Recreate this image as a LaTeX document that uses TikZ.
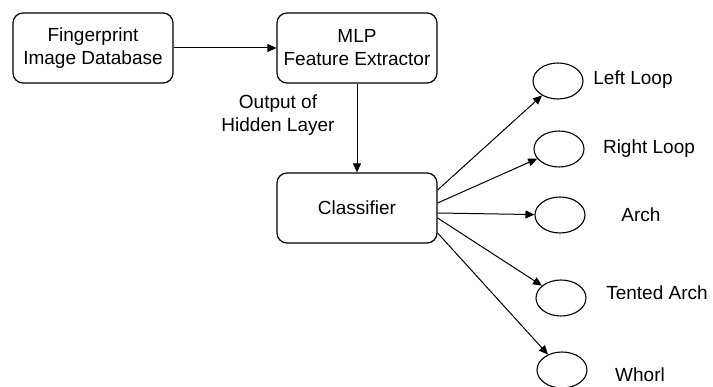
\documentclass[tikz,border=0pt]{standalone}
\usepackage{fontspec}
\setmainfont{Liberation Sans}
\usetikzlibrary{arrows.meta,shapes.geometric}
\begin{document}
\begin{tikzpicture}[x=1pt,y=-1pt,
  every node/.style={font=\fontsize{19}{23}\selectfont},
  blk/.style={draw,line width=1.2pt,rounded corners=10pt,minimum width=160pt,minimum height=70pt,align=center,inner sep=0pt},
  oval/.style={draw,ellipse,line width=1.1pt,minimum width=50pt,minimum height=36pt,inner sep=0pt},
  lbl/.style={align=center,inner sep=0pt},
  conn/.style={line width=1pt,-{Triangle[length=9pt,width=8pt]}}]
\useasboundingbox (0,0) rectangle (713,387);
\node[blk] (db) at (93,48) {Fingerprint\\Image Database};
\node[blk] (mlp) at (357,48) {MLP\\Feature Extractor};
\node[blk] (cls) at (357,208) {Classifier};
\node[lbl] (hid) at (278,115) {Output of\\Hidden Layer};
\node[oval] (ll) at (558,81) {};
\node[oval] (rl) at (559,149) {};
\node[oval] (ar) at (560,215) {};
\node[oval] (ta) at (561,298) {};
\node[oval] (wh) at (562,370) {};
\node[lbl] (tll) at (633,80) {Left Loop};
\node[lbl] (trl) at (649,149) {Right Loop};
\node[lbl] (tar) at (641,215) {Arch};
\node[lbl] (tta) at (657,293) {Tented Arch};
\node[lbl] (twh) at (640,375) {Whorl};
\draw[conn] (db) -- (mlp);
\draw[conn] (mlp) -- (cls);
\draw[conn] ([yshift=18pt]cls.east) -- (ll);
\draw[conn] ([yshift=5pt]cls.east) -- (rl);
\draw[conn] ([yshift=-5pt]cls.east) -- (ar);
\draw[conn] ([yshift=-10pt]cls.east) -- (ta);
\draw[conn] ([yshift=-25pt]cls.east) -- (wh);
\end{tikzpicture}
\end{document}
